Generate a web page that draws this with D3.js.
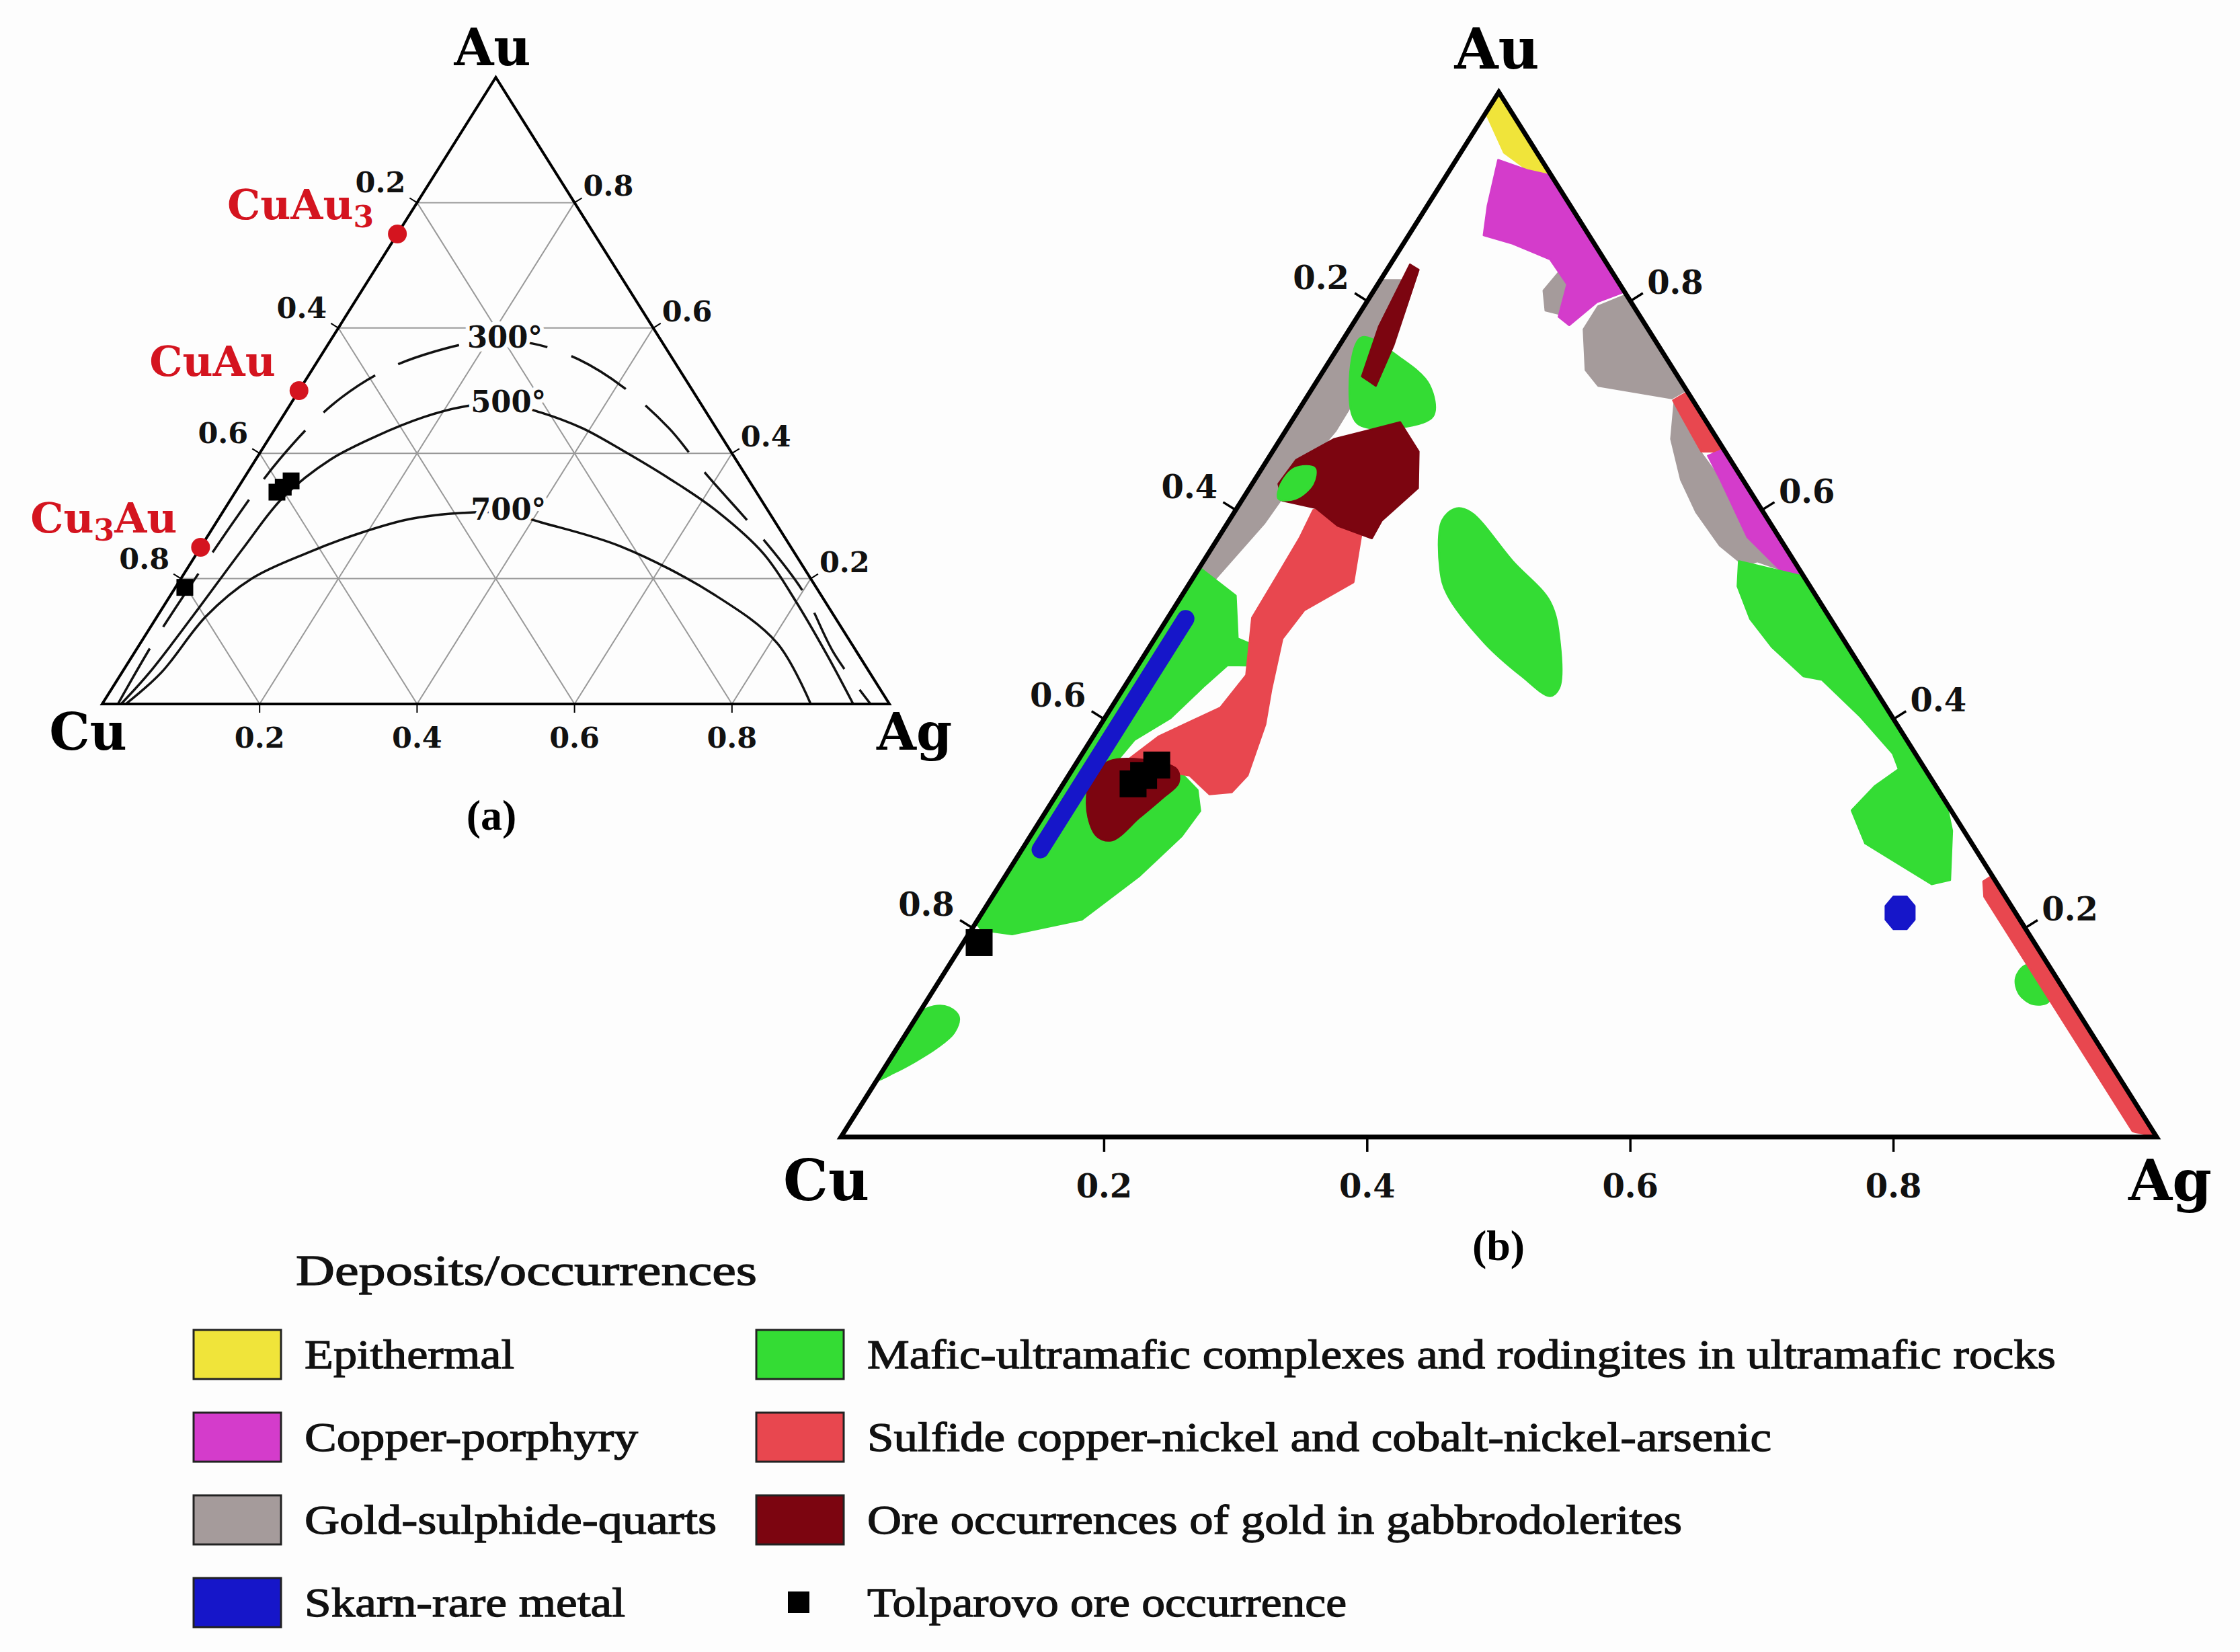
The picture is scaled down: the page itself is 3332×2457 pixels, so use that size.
<!DOCTYPE html>
<html><head><meta charset="utf-8">
<script src="https://cdn.jsdelivr.net/npm/d3@7/dist/d3.min.js"></script>
<style>body{margin:0;background:#fdfdfd}</style>
</head><body>
<svg id="c" width="3332" height="2457" xmlns="http://www.w3.org/2000/svg"></svg>
<script>
// ---------------- DATA (ternary compositions: [Ag fraction, Au fraction]) ----------------
const gridTicks = [0.2, 0.4, 0.6, 0.8];
const tickLabels = ["0.2", "0.4", "0.6", "0.8"];
const vertexNames = ["Cu", "Ag", "Au"];

// panel (a)
const compoundNames = [["Cu","Au","3"], ["Cu","Au",""], ["Cu","3","Au"]];
const compoundAu = [0.75, 0.5, 0.25];
const solvusNames = ["300°", "500°", "700°"];
const solvusLabelPos = [[0.219, 0.585], [0.275, 0.482], [0.361, 0.31]];
const solvus300 = [[0.02,0],[0.016,0.1],[0.018,0.2],[0.022,0.3],[0.03,0.39],[0.053,0.476],[0.09,0.53],[0.14,0.562],[0.2,0.58],[0.26,0.575],[0.33,0.55],[0.41,0.505],[0.5,0.44],[0.58,0.37],[0.7,0.27],[0.8,0.18],[0.89,0.08],[0.976,0]];
const solvus500 = [[0.024,0],[0.035,0.05],[0.045,0.14],[0.055,0.25],[0.065,0.33],[0.095,0.39],[0.134,0.427],[0.18,0.458],[0.22,0.474],[0.27,0.48],[0.325,0.465],[0.39,0.44],[0.458,0.405],[0.54,0.36],[0.622,0.311],[0.72,0.24],[0.798,0.165],[0.88,0.08],[0.954,0]];
const solvus700 = [[0.03,0],[0.05,0.05],[0.062,0.14],[0.09,0.2],[0.14,0.241],[0.19,0.272],[0.243,0.295],[0.306,0.305],[0.36,0.305],[0.412,0.29],[0.534,0.251],[0.691,0.174],[0.809,0.097],[0.9,0]];

// Tolparovo ore occurrence (both panels)
const tolparovo = [[0.053,0.338],[0.057,0.346],[0.062,0.356],[0.012,0.186]];

// panel (b) fields
const epithermal1 = [[0,1],[0.002,0.978],[0.033,0.942],[0.06,0.925],[0.08,0.92]];
const porphyry1 = [[0.032,0.935],[0.06,0.925],[0.08,0.92],[0.191,0.809],[0.175,0.799],[0.165,0.777],[0.153,0.785],[0.144,0.816],[0.119,0.840],[0.083,0.855],[0.057,0.863],[0.046,0.891]];
const porphyry2 = [[0.342,0.658],[0.461,0.539],[0.450,0.537],[0.402,0.574],[0.354,0.629],[0.333,0.652]];
const sulphide1 = [[0.129,0.810],[0.140,0.791],[0.155,0.787],[0.150,0.80],[0.144,0.816],[0.132,0.828]];
const sulphide2 = [[0.194,0.806],[0.285,0.715],[0.278,0.707],[0.216,0.719],[0.199,0.734],[0.178,0.773],[0.178,0.795]];
const sulphide3 = [[0.282,0.703],[0.326,0.655],[0.354,0.629],[0.402,0.574],[0.443,0.543],[0.421,0.551],[0.413,0.547],[0.385,0.566],[0.351,0.598],[0.324,0.629],[0.297,0.668]];
const sulphide4 = [[0,0.82],[0.018,0.82],[0.037,0.744],[0.038,0.676],[0.031,0.635],[0.028,0.587],[0.017,0.532],[0,0.52]];
const mafic1 = [[0.407,0.551],[0.461,0.537],[0.68,0.32],[0.698,0.293],[0.720,0.246],[0.708,0.242],[0.638,0.281],[0.612,0.3125],[0.618,0.336],[0.628,0.352],[0.616,0.367],[0.574,0.402],[0.527,0.4375],[0.511,0.441],[0.473,0.469],[0.443,0.496],[0.418,0.527]];
const mafic2 = [[0.818,0.164],[0.828,0.162],[0.853,0.130],[0.843,0.127],[0.827,0.137],[0.817,0.152]];
const mafic3 = [[0.167,0.6016],[0.180,0.5977],[0.235,0.551],[0.283,0.512],[0.310,0.4727],[0.331,0.4297],[0.328,0.422],[0.297,0.441],[0.253,0.4727],[0.201,0.5195],[0.184,0.543],[0.162,0.590]];
const mafic4 = [[0.013,0.765],[0.053,0.745],[0.087,0.720],[0.105,0.690],[0.085,0.679],[0.051,0.683],[0.028,0.717]];
const mafic5 = [[0,0.545],[0.041,0.518],[0.063,0.477],[0.099,0.462],[0.101,0.451],[0.068,0.4515],[0.060,0.431],[0.05,0.401],[0.033,0.38],[0.030,0.362],[0.05,0.355],[0.086,0.347],[0.105,0.332],[0.117,0.312],[0.115,0.288],[0.102,0.25],[0.079,0.208],[0.033,0.194],[0.008,0.198],[0,0.205]];
const mafic6 = [[0,0.055],[0,0.118],[0.008,0.125],[0.02,0.124],[0.032,0.115],[0.036,0.1],[0.03,0.085],[0.02,0.072],[0.01,0.062]];
const mafic7 = [[0.025,0.640],[0.04,0.640],[0.046,0.625],[0.04,0.611],[0.027,0.611],[0.022,0.625]];
const cuni1 = [[0.287,0.713],[0.344,0.656],[0.326,0.656],[0.293,0.691],[0.280,0.705]];
const cuni2 = [[0.75,0.25],[0.746,0.2445],[0.754,0.23],[0.979,0.0055],[1,0]];
const cuni3 = [[0.059,0.600],[0.087,0.610],[0.107,0.577],[0.124,0.531],[0.100,0.504],[0.097,0.477],[0.113,0.428],[0.125,0.395],[0.136,0.346],[0.132,0.330],[0.116,0.328],[0.092,0.346],[0.06,0.352],[0.036,0.358],[0.050,0.3835],[0.083,0.411],[0.087,0.442],[0.064,0.497],[0.063,0.538],[0.062,0.573]];
const gabbro1 = [[0.015,0.835],[0.024,0.830],[0.041,0.758],[0.047,0.719],[0.032,0.728],[0.021,0.776]];
const gabbro2 = [[0.022,0.648],[0.041,0.668],[0.083,0.684],[0.111,0.656],[0.128,0.621],[0.116,0.59],[0.117,0.573],[0.085,0.585],[0.06,0.602],[0.031,0.609],[0.02,0.625]];
const gabbro3 = [[0.019,0.3465],[0.024,0.3594],[0.049,0.361],[0.079,0.352],[0.087,0.339],[0.082,0.3243],[0.074,0.306],[0.064,0.284],[0.051,0.2876],[0.035,0.306],[0.0215,0.332]];
const skarn1 = [[0.685,0.230],[0.695,0.230],[0.7055,0.221],[0.712,0.208],[0.7105,0.199],[0.7005,0.199],[0.690,0.208],[0.6835,0.221]];
const skarnStrip = [[0.014,0.275],[0.014,0.496]];

// legend
const legendNames = ["Epithermal","Copper-porphyry","Gold-sulphide-quarts","Skarn-rare metal",
  "Mafic-ultramafic complexes and rodingites in ultramafic rocks","Sulfide copper-nickel and cobalt-nickel-arsenic",
  "Ore occurrences of gold in gabbrodolerites","Tolparovo ore occurrence"];
const legendKeys = ["epi","por","gsq","skn","maf","cun","gab","tol"];
const legendColors = {epi:"#f0e43a", por:"#d43ccb", gsq:"#a59b9b", skn:"#1616c9", maf:"#34dc34", cun:"#e8474f", gab:"#7c0510", tol:"#000"};
const legendTextWidths = [312, 496, 613, 477, 1768, 1345, 1212, 713];

// fields in drawing order: [category, polygon, smooth outline?]
const fields = [
  ["gsq", sulphide4, false], ["gsq", sulphide1, false], ["gsq", sulphide2, false], ["gsq", sulphide3, false],
  ["epi", epithermal1, false], ["por", porphyry1, false], ["cun", cuni1, false], ["por", porphyry2, false],
  ["maf", mafic1, false], ["maf", mafic2, true], ["maf", mafic3, true], ["maf", mafic4, true], ["maf", mafic5, false], ["maf", mafic6, true],
  ["cun", cuni2, false], ["cun", cuni3, false],
  ["gab", gabbro1, false], ["gab", gabbro2, false], ["gab", gabbro3, true], ["maf", mafic7, true],
  ["skn", skarn1, false]
];

// ---------------- DRAWING ----------------
const svg = d3.select("#c");
svg.append("rect").attr("width",3332).attr("height",2457).attr("fill","#fdfdfd");
const SERIF_B = "'DejaVu Serif', serif";
const SERIF_L = "'Liberation Serif', 'Times New Roman', serif";

function ternary(cfg){
  const x = d3.scaleLinear().domain([0,1]).range([cfg.cuX, cfg.agX]);
  const y = d3.scaleLinear().domain([0,1]).range([cfg.baseY, cfg.apexY]);
  const p = d => [x(d[0] + d[1]/2), y(d[1])];
  return {x, y, p};
}
const TA = ternary({cuX:152, agX:1323, baseY:1047, apexY:115});
const TB = ternary({cuX:1251, agX:3208, baseY:1691, apexY:137});

function frame(g, T, sw, tickLen, fs, off){
  const corners = [[0,0],[1,0],[0,1]].map(T.p);
  const cu = corners[0], ag = corners[1], au = corners[2];
  function norm(v){const l=Math.hypot(v[0],v[1]);return [v[0]/l,v[1]/l];}
  const nL = norm([(au[1]-cu[1]), -(au[0]-cu[0])]);
  const nR = norm([-(au[1]-ag[1]), (au[0]-ag[0])]);
  const nB = [0,1];
  const tg = g.append("g").attr("stroke","#000").attr("stroke-width",Math.max(2,sw*0.5));
  const lab = g.append("g").attr("font-family",SERIF_B).attr("font-weight","bold").attr("font-size",fs).attr("fill","#111");
  gridTicks.forEach((v,i)=>{
    const pb = T.p([v,0]), pl = T.p([0,1-v]), pr = T.p([1-v,v]);
    [[pb,nB],[pl,nL],[pr,nR]].forEach(([pt,n])=>{
      tg.append("line").attr("x1",pt[0]).attr("y1",pt[1]).attr("x2",pt[0]+n[0]*tickLen).attr("y2",pt[1]+n[1]*tickLen);
    });
    lab.append("text").attr("x",pb[0]).attr("y",pb[1]+off.b).attr("text-anchor","middle").text(tickLabels[i]);
    lab.append("text").attr("x",pl[0]+off.lx).attr("y",pl[1]+off.ly).attr("text-anchor","end").text(tickLabels[i]);
    lab.append("text").attr("x",pr[0]+off.rx).attr("y",pr[1]+off.ry).attr("text-anchor","start").text(tickLabels[i]);
  });
  g.append("path").attr("d","M"+corners.join("L")+"Z").attr("fill","none").attr("stroke","#000")
    .attr("stroke-width",sw).attr("stroke-linejoin","miter");
}

// ---------- panel (a) ----------
const ga = svg.append("g");
const grid = ga.append("g").attr("stroke","#999").attr("stroke-width",2).attr("fill","none");
gridTicks.forEach(v=>{
  [[[0,v],[1-v,v]], [[v,0],[v,1-v]], [[1-v,0],[0,1-v]]].forEach(seg=>{
    const a=TA.p(seg[0]), b=TA.p(seg[1]);
    grid.append("line").attr("x1",a[0]).attr("y1",a[1]).attr("x2",b[0]).attr("y2",b[1]);
  });
});
const curveLine = d3.line().x(d=>TA.p(d)[0]).y(d=>TA.p(d)[1]).curve(d3.curveCatmullRom.alpha(0.5));
[[solvus300,"95,38"],[solvus500,null],[solvus700,null]].forEach(([pts,dash])=>{
  ga.append("path").attr("d",curveLine(pts)).attr("fill","none").attr("stroke","#111")
    .attr("stroke-width",3.5).attr("stroke-dasharray",dash);
});
solvusNames.forEach((n,i)=>{
  const p = TA.p(solvusLabelPos[i]);
  ga.append("text").attr("x",p[0]).attr("y",p[1]+15).attr("text-anchor","middle")
    .attr("font-family",SERIF_B).attr("font-weight","bold").attr("font-size",44)
    .attr("textLength",112).attr("lengthAdjust","spacingAndGlyphs")
    .attr("stroke","#fdfdfd").attr("stroke-width",12).attr("paint-order","stroke").attr("fill","#111").text(n);
});
frame(ga, TA, 4, 13, 43, {b:65, lx:-17, ly:-15, rx:13, ry:-10});
compoundAu.forEach((au,i)=>{
  const p = TA.p([0,au]);
  ga.append("circle").attr("cx",p[0]).attr("cy",p[1]).attr("r",14).attr("fill","#d4141f");
  const t = ga.append("text").attr("x",p[0]-35).attr("y",p[1]-22).attr("text-anchor","end")
    .attr("font-family",SERIF_B).attr("font-weight","bold").attr("font-size",62).attr("fill","#d4141f");
  const parts = compoundNames[i];
  parts.forEach((s,j)=>{
    if(!s) return;
    const isSub = /\d/.test(s);
    const ts = t.append("tspan").text(s);
    if(isSub){ ts.attr("font-size",44).attr("dy",12); }
    else if(j>0 && /\d/.test(parts[j-1])){ ts.attr("dy",-12); }
  });
});
tolparovo.forEach(d=>{
  const p=TA.p(d);
  ga.append("rect").attr("x",p[0]-12.5).attr("y",p[1]-12.5).attr("width",25).attr("height",25).attr("fill","#000");
});
[[TA.p([0,0]),[-21,68]],[TA.p([1,0]),[37,68]],[TA.p([0,1]),[-5,-18]]].forEach(([p,o],i)=>{
  ga.append("text").attr("x",p[0]+o[0]).attr("y",p[1]+o[1]).attr("text-anchor","middle")
    .attr("font-family",SERIF_B).attr("font-weight","bold").attr("font-size",76).attr("fill","#000").text(vertexNames[i]);
});
ga.append("text").attr("x",731).attr("y",1234).attr("text-anchor","middle").attr("font-family",SERIF_L)
  .attr("font-weight","bold").attr("font-size",64).text("(a)");

// ---------- panel (b) ----------
const gb = svg.append("g");
const triB = [[0,0],[1,0],[0,1]].map(TB.p);
svg.append("defs").append("clipPath").attr("id","clipB").append("path").attr("d","M"+triB.join("L")+"Z");
const fg = gb.append("g").attr("clip-path","url(#clipB)");
const polyLin = d3.line().x(d=>TB.p(d)[0]).y(d=>TB.p(d)[1]).curve(d3.curveLinearClosed);
const polySm = d3.line().x(d=>TB.p(d)[0]).y(d=>TB.p(d)[1]).curve(d3.curveCatmullRomClosed.alpha(0.5));
fields.forEach(([k,pts,sm])=>{
  fg.append("path").attr("d",(sm?polySm:polyLin)(pts)).attr("fill",legendColors[k]).attr("stroke",legendColors[k])
    .attr("stroke-width",3).attr("stroke-linejoin","round");
});
const strip = d3.line().x(d=>TB.p(d)[0]).y(d=>TB.p(d)[1]);
fg.append("path").attr("d",strip(skarnStrip)).attr("stroke",legendColors.skn).attr("stroke-width",26)
  .attr("stroke-linecap","round").attr("fill","none");
tolparovo.forEach(d=>{
  const p=TB.p(d);
  gb.append("rect").attr("x",p[0]-20).attr("y",p[1]-20).attr("width",40).attr("height",40).attr("fill","#000");
});
frame(gb, TB, 7, 22, 48, {b:90, lx:-27, ly:-18, rx:25, ry:-11});
[[TB.p([0,0]),[-22,94]],[TB.p([1,0]),[20,94]],[TB.p([0,1]),[-3,-35]]].forEach(([p,o],i)=>{
  gb.append("text").attr("x",p[0]+o[0]).attr("y",p[1]+o[1]).attr("text-anchor","middle")
    .attr("font-family",SERIF_B).attr("font-weight","bold").attr("font-size",84).attr("fill","#000").text(vertexNames[i]);
});
gb.append("text").attr("x",2229).attr("y",1874).attr("text-anchor","middle").attr("font-family",SERIF_L)
  .attr("font-weight","bold").attr("font-size",64).text("(b)");

// ---------- legend ----------
const lg = svg.append("g").attr("font-family",SERIF_L).attr("font-weight","normal").attr("fill","#111")
  .attr("stroke","#111").attr("stroke-width",1.3);
lg.append("text").attr("x",440).attr("y",1911).attr("font-size",64).attr("textLength",686)
  .attr("lengthAdjust","spacingAndGlyphs").text("Deposits/occurrences");
legendKeys.forEach((k,i)=>{
  const col = Math.floor(i/4), row = i%4;
  const sx = col ? 1125 : 288, top = 1978 + row*123, tx = col ? 1290 : 453;
  if(k === "tol"){
    lg.append("rect").attr("x",1172).attr("y",top+20).attr("width",32).attr("height",32).attr("fill","#000").attr("stroke","none");
  } else {
    lg.append("rect").attr("x",sx).attr("y",top).attr("width",130).attr("height",73)
      .attr("fill",legendColors[k]).attr("stroke","#222").attr("stroke-width",3);
  }
  lg.append("text").attr("x",tx).attr("y",top+57).attr("font-size",62)
    .attr("textLength",legendTextWidths[i]).attr("lengthAdjust","spacingAndGlyphs").text(legendNames[i]);
});
</script>
</body></html>
